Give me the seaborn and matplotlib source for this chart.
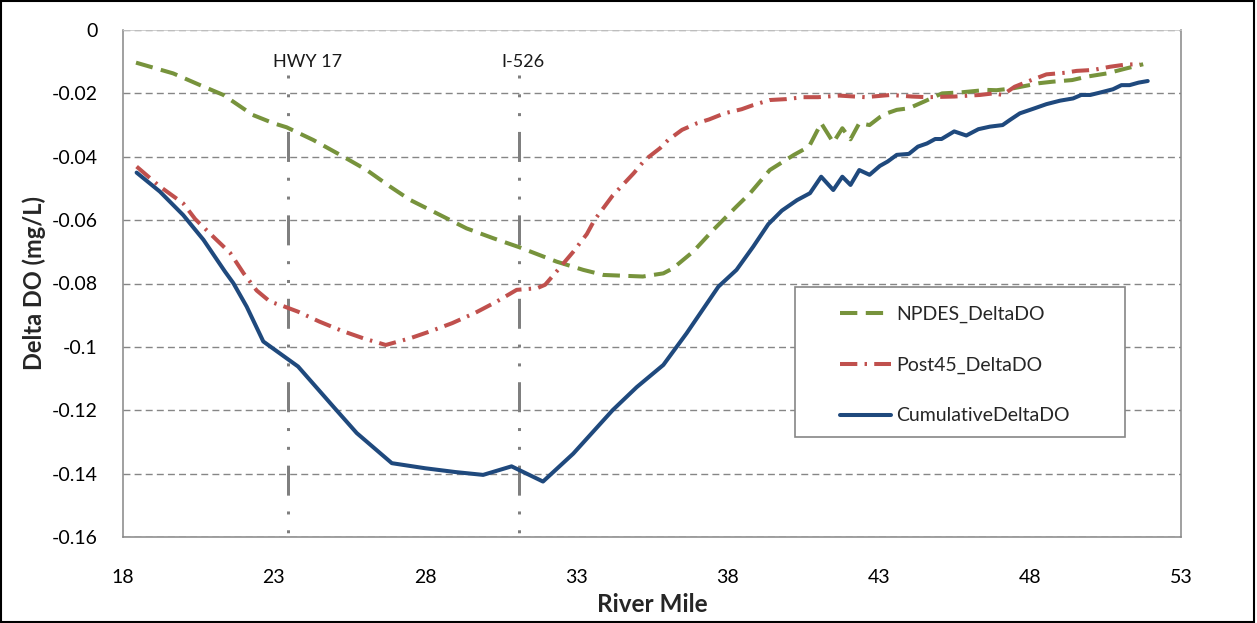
import matplotlib
matplotlib.use("Agg")
import matplotlib.pyplot as plt
import seaborn as sns
from matplotlib.patches import Rectangle

# ---- data -------------------------------------------------------------
npdes_mile = [18.44, 19.67, 20.56, 21.33, 22.3, 22.98, 23.42, 24.3, 25.19, 26.07,
              26.84, 27.5, 28.5, 29.37, 30.25, 31.1, 32.35, 33.23, 33.9, 35.2,
              35.88, 36.2, 36.87, 37.53, 38.3, 38.75, 39.4, 40.2, 40.6, 40.73,
              41.1, 41.5, 41.8, 42.07, 42.36, 42.7, 43.04, 43.3, 43.6, 44.0,
              44.5, 45.1, 45.7, 46.57, 46.9, 47.45, 48.3, 48.77, 49.4, 49.9,
              50.55, 51.2, 51.75]
npdes_delta = [-0.0103, -0.0137, -0.0174, -0.0205, -0.0268, -0.0294, -0.0307, -0.0347, -0.0394, -0.0442,
               -0.0494, -0.0536, -0.0584, -0.0626, -0.0657, -0.0685, -0.0731, -0.0757, -0.0773, -0.0778,
               -0.0768, -0.0752, -0.0699, -0.0631, -0.0557, -0.0515, -0.0442, -0.0394, -0.0373, -0.0362,
               -0.0294, -0.0355, -0.0310, -0.0345, -0.0294, -0.0300, -0.0275, -0.0262, -0.0252, -0.0247,
               -0.0226, -0.0200, -0.0197, -0.0189, -0.0190, -0.0184, -0.0168, -0.0163, -0.0158, -0.0147,
               -0.0137, -0.0121, -0.0108]

post45_mile = [18.46, 19.23, 20.0, 20.4, 21.1, 21.55, 22.0, 22.43, 22.87, 23.3,
               23.8, 24.5, 25.24, 25.96, 26.7, 27.5, 28.2, 28.9, 29.67, 30.37,
               31.03, 31.7, 31.97, 32.35, 32.9, 33.35, 33.6, 34.2, 34.9, 35.27,
               35.77, 36.04, 36.5, 37.0, 37.4, 37.9, 38.47, 38.85, 39.4, 39.96,
               40.5, 41.0, 41.7, 42.55, 43.4, 44.1, 44.6, 45.5, 46.35, 46.8,
               47.1, 47.5, 48.0, 48.55, 49.16, 49.55, 50.1, 50.65, 51.1, 51.65]
post45_delta = [-0.0431, -0.0494, -0.0547, -0.0597, -0.0662, -0.0703, -0.0768, -0.0822, -0.0857, -0.0871,
                -0.0889, -0.0920, -0.0949, -0.0973, -0.0994, -0.0973, -0.0950, -0.0925, -0.0892, -0.0857,
                -0.0820, -0.0815, -0.0804, -0.0762, -0.0700, -0.0644, -0.0600, -0.0523, -0.0452, -0.0410,
                -0.0373, -0.0347, -0.0315, -0.0294, -0.0282, -0.0263, -0.0250, -0.0237, -0.0221, -0.0218,
                -0.0212, -0.0212, -0.0207, -0.0212, -0.0205, -0.0210, -0.0212, -0.0210, -0.0205, -0.0200,
                -0.0205, -0.0179, -0.0160, -0.0140, -0.0135, -0.0129, -0.0126, -0.0116, -0.0110, -0.0107]

cumulative_mile = [18.46, 19.23, 20.0, 20.67, 21.38, 21.66, 22.1, 22.65, 23.8, 24.96,
                   25.74, 26.9, 28.0, 29.0, 29.92, 30.86, 31.9, 32.9, 34.2, 35.0,
                   35.88, 36.65, 37.1, 37.7, 38.3, 38.85, 39.35, 39.8, 40.3, 40.73,
                   41.1, 41.5, 41.8, 42.07, 42.36, 42.7, 43.04, 43.3, 43.6, 44.0,
                   44.3, 44.6, 44.87, 45.08, 45.5, 45.9, 46.3, 46.68, 47.1, 47.34,
                   47.67, 48.1, 48.55, 49.0, 49.43, 49.7, 50.0, 50.3, 50.75, 51.03,
                   51.3, 51.6, 51.9]
cumulative_delta = [-0.0450, -0.0510, -0.0584, -0.0662, -0.0762, -0.0799, -0.0873, -0.0983, -0.1062, -0.1188,
                    -0.1272, -0.1367, -0.1383, -0.1395, -0.1404, -0.1377, -0.1425, -0.1337, -0.1200, -0.1127,
                    -0.1057, -0.0957, -0.0894, -0.0810, -0.0757, -0.0684, -0.0613, -0.0570, -0.0537, -0.0515,
                    -0.0463, -0.0505, -0.0463, -0.0489, -0.0442, -0.0457, -0.0429, -0.0415, -0.0394, -0.0391,
                    -0.0368, -0.0358, -0.0344, -0.0344, -0.0320, -0.0333, -0.0313, -0.0305, -0.0300, -0.0284,
                    -0.0263, -0.0249, -0.0234, -0.0223, -0.0216, -0.0205, -0.0205, -0.0198, -0.0187, -0.0174,
                    -0.0174, -0.0166, -0.0161]

series_names = ["NPDES_DeltaDO", "Post45_DeltaDO", "CumulativeDeltaDO"]

landmark_names = ["HWY 17", "I-526"]
landmark_miles = [23.48, 31.1]

x_ticks = [18, 23, 28, 33, 38, 43, 48, 53]
y_ticks = [0, -0.02, -0.04, -0.06, -0.08, -0.10, -0.12, -0.14, -0.16]
y_tick_labels = ["0", "-0.02", "-0.04", "-0.06", "-0.08", "-0.1", "-0.12", "-0.14", "-0.16"]

# ---- style ------------------------------------------------------------
sns.set_theme(style="white")
plt.rcParams["font.family"] = ["Lato", "DejaVu Sans"]
plt.rcParams["axes.unicode_minus"] = False

GREEN = "#77933C"
RED = "#C0504D"
BLUE = "#1F497D"
AXIS_GRAY = "#868686"
LW = 2.9

W, H = 1257, 623
fig = plt.figure(figsize=(W / 100, H / 100), dpi=100)
ax_l, ax_r, ax_t, ax_b = 122.7, 1181.0, 30.0, 537.0
ax = fig.add_axes([ax_l / W, 1 - ax_b / H, (ax_r - ax_l) / W, (ax_b - ax_t) / H])

ax.set_xlim(18, 53)
ax.set_ylim(-0.16, 0)

# gridlines
ax.yaxis.grid(True, linestyle=(0, (5, 3)), color=AXIS_GRAY, lw=1.0, zorder=0)
ax.xaxis.grid(False)
ax.set_axisbelow(True)

# series
sns.lineplot(x=npdes_mile, y=npdes_delta, ax=ax, color=GREEN, lw=LW,
             linestyle=(0, (4.3, 2.1)), label=series_names[0], errorbar=None,
             sort=False, zorder=3)
sns.lineplot(x=post45_mile, y=post45_delta, ax=ax, color=RED, lw=LW,
             linestyle=(0, (4.3, 1.8, 0.6, 1.8)), label=series_names[1], errorbar=None,
             sort=False, zorder=3)
sns.lineplot(x=cumulative_mile, y=cumulative_delta, ax=ax, color=BLUE, lw=LW,
             linestyle="-", label=series_names[2], errorbar=None, sort=False, zorder=3)

# landmark crossings
line_top = -0.0142
label_x = [24.13, 31.25]
for mile, name, lx in zip(landmark_miles, landmark_names, label_x):
    ax.plot([mile, mile], [line_top, -0.16], color="#7F7F7F", lw=2.16,
            linestyle=(9, (10, 5.27, 1, 5.27, 1, 5.27)), zorder=2)
    ax.text(lx, -0.0100, name, ha="center", va="center", fontsize=13, color="#1a1a1a")

# axes frame
for side in ["left", "bottom", "right"]:
    ax.spines[side].set_color(AXIS_GRAY)
    ax.spines[side].set_linewidth(1.1)
ax.spines["top"].set_color("#c8c8c8")
ax.spines["top"].set_linewidth(0.6)

ax.set_xticks(x_ticks)
ax.set_xticklabels([str(v) for v in x_ticks])
ax.set_yticks(y_ticks)
ax.set_yticklabels(y_tick_labels)
ax.tick_params(axis="both", direction="out", length=7, width=1.1, color=AXIS_GRAY,
               labelsize=14, labelcolor="black")
ax.tick_params(axis="y", pad=11)
ax.tick_params(axis="x", pad=16)

ax.set_xlabel("River Mile", fontsize=17.5, fontweight="bold", labelpad=5)
ax.set_ylabel("Delta DO (mg/L)", fontsize=17, fontweight="bold", labelpad=4)

# legend box and entries
bx0 = (795 - ax_l) / (ax_r - ax_l)
bx1 = (1125 - ax_l) / (ax_r - ax_l)
by0 = (ax_b - 436.7) / (ax_b - ax_t)
by1 = (ax_b - 286.7) / (ax_b - ax_t)
ax.add_patch(Rectangle((bx0, by0), bx1 - bx0, by1 - by0, transform=ax.transAxes,
                       facecolor="white", edgecolor=AXIS_GRAY, lw=1.2, zorder=4))
leg = ax.legend(loc="upper left",
                bbox_to_anchor=((840 - ax_l) / (ax_r - ax_l), (ax_b - 306) / (ax_b - ax_t)),
                frameon=False, fontsize=14, handlelength=2.6, handletextpad=0.3,
                labelspacing=1.72, borderpad=0, borderaxespad=0)
leg.set_zorder(5)

# outer border of the figure
fig.patches.append(Rectangle((0.001, 0.002), 0.997, 0.996, transform=fig.transFigure,
                             fill=False, edgecolor="black", lw=1.5))

fig.savefig("out.png", dpi=100, facecolor="white")
